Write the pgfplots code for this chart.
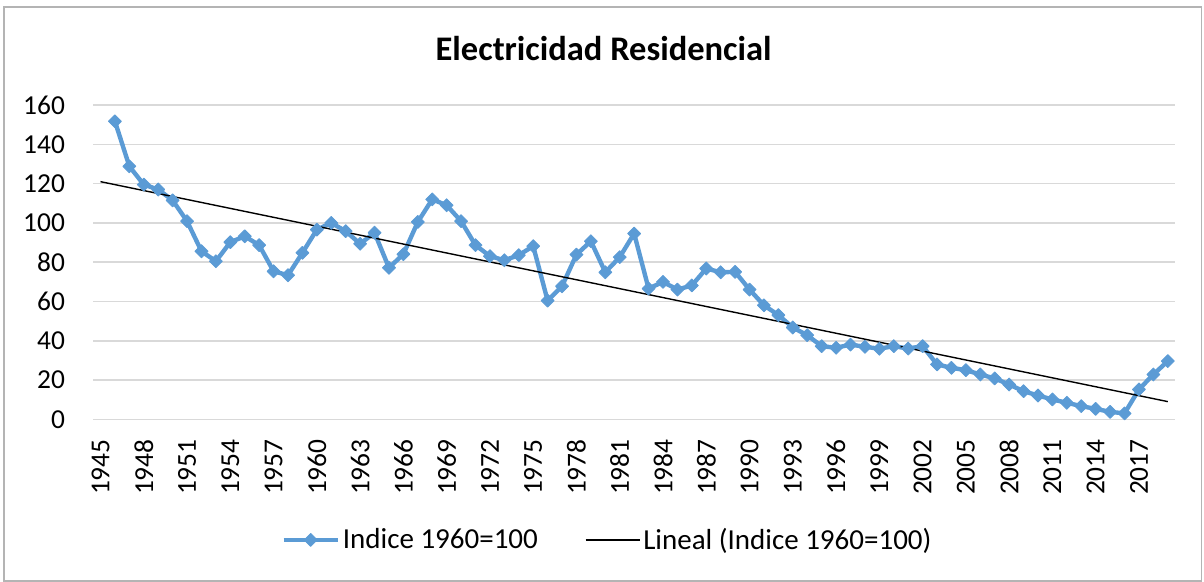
\documentclass[border=0pt]{standalone}
\usepackage{fontspec}
\setmainfont{Carlito}
\usepackage{pgfplots}
\pgfplotsset{compat=1.18}
\definecolor{exblue}{HTML}{5B9BD5}
\definecolor{gridgray}{HTML}{D9D9D9}
\definecolor{bordergray}{HTML}{B4B4B4}
\begin{document}
\begin{tikzpicture}[x=1pt,y=1pt]
\useasboundingbox (0,0) rectangle (602,291);
\draw[bordergray, line width=0.7pt] (2,0.5) rectangle (600.85,287.4);
\node[anchor=base, font=\fontsize{17.25}{20}\selectfont\bfseries] at (301.8,260.6) {Electricidad Residencial};
\begin{axis}[
  at={(46.65pt,81.25pt)}, anchor=south west,
  scale only axis, width=540.85pt, height=157.25pt,
  xmin=1944.5, xmax=2019.5, ymin=0, ymax=160,
  xtick={1945,1948,...,2017},
  ytick={0,20,...,160},
  ymajorgrids,
  grid style={gridgray, line width=0.75pt},
  axis line style={draw=none},
  major tick length=0pt,
  tick style={draw=none},
  /pgf/number format/assume math mode=true,
  /pgf/number format/1000 sep={},
  ticklabel style={font=\fontsize{13.7}{16}\selectfont},
  yticklabel style={anchor=east, inner sep=0pt, xshift=-14pt},
  xticklabel style={yshift=-9.75pt, rotate=90, anchor=east, inner sep=0pt},
  clip=false,
  legend columns=2,
  legend style={draw=none, fill=none, at={(0.4758,-0.383)}, anchor=center,
    font=\fontsize{14.5}{17}\selectfont,
    /tikz/every even column/.append style={column sep=22pt},
    nodes={inner sep=1.5pt}},
  legend image code/.code={\draw[mark repeat=2,mark phase=2,#1] plot coordinates {(0pt,0pt) (13.5pt,0pt) (27pt,0pt)};},
]
\addplot[exblue, line width=2.2pt, line join=round, mark=square*, mark size=2.3pt,
  mark options={solid, rotate=45, line width=0.4pt, fill=exblue}] coordinates {
(1946,151.7) (1947,128.8) (1948,119.5) (1949,117.0) (1950,111.5) (1951,100.9)
(1952,85.6) (1953,80.5) (1954,90.2) (1955,93.2) (1956,88.7) (1957,75.4)
(1958,73.4) (1959,84.8) (1960,96.6) (1961,100.0) (1962,95.8) (1963,89.4)
(1964,95.0) (1965,77.2) (1966,84.1) (1967,100.5) (1968,112.0) (1969,109.0)
(1970,100.9) (1971,88.7) (1972,83.1) (1973,81.0) (1974,83.6) (1975,88.2)
(1976,60.5) (1977,67.8) (1978,83.9) (1979,90.7) (1980,74.9) (1981,82.6)
(1982,94.6) (1983,66.6) (1984,70.0) (1985,66.1) (1986,68.2) (1987,76.8)
(1988,74.9) (1989,75.1) (1990,66.1) (1991,58.1) (1992,53.1) (1993,46.8)
(1994,42.9) (1995,37.3) (1996,36.5) (1997,38.1) (1998,37.0) (1999,36.0)
(2000,37.3) (2001,36.1) (2002,37.3) (2003,28.0) (2004,26.3) (2005,25.1)
(2006,22.9) (2007,20.9) (2008,17.8) (2009,14.4) (2010,12.2) (2011,10.2)
(2012,8.5) (2013,6.8) (2014,5.4) (2015,3.9) (2016,3.1) (2017,15.3)
(2018,22.9) (2019,29.7)
};
\addlegendentry{Indice 1960=100}
\addplot[black, line width=0.7pt, no markers] coordinates {(1945,121.0) (2019,9.1)};
\addlegendentry{Lineal (Indice 1960=100)}
\end{axis}
\end{tikzpicture}
\end{document}
